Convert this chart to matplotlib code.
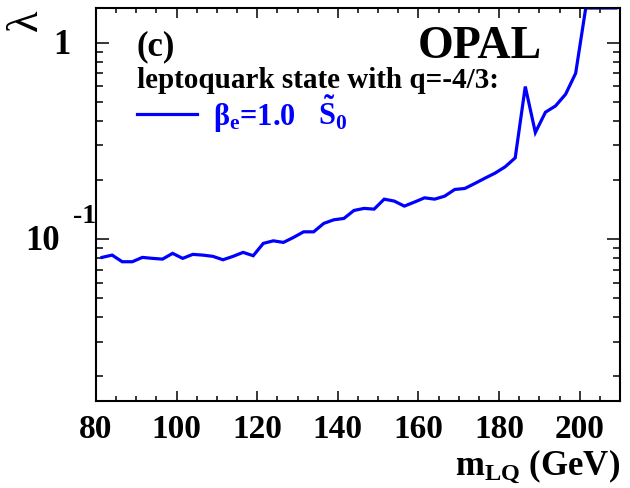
import numpy as np
import matplotlib
matplotlib.use('Agg')
import matplotlib.pyplot as plt
from matplotlib.ticker import MultipleLocator, LogLocator, NullFormatter

plt.rcParams['font.family'] = 'Liberation Serif'
plt.rcParams['font.weight'] = 'bold'
plt.rcParams['mathtext.fontset'] = 'custom'
plt.rcParams['mathtext.rm'] = 'Liberation Serif:bold'
plt.rcParams['mathtext.bf'] = 'Liberation Serif:bold'
plt.rcParams['mathtext.it'] = 'Liberation Serif:bold'

# limit curve, S0~ leptoquark, beta_e = 1.0
mass = [81.5, 84.0, 86.5, 89.0, 91.5, 94.0, 96.5, 99.0, 101.5, 104.0,
        106.5, 109.0, 111.5, 114.0, 116.5, 119.0, 121.5, 124.0, 126.5, 129.0,
        131.5, 134.0, 136.5, 139.0, 141.5, 144.0, 146.5, 149.0, 151.5, 154.0,
        156.5, 159.0, 161.5, 164.0, 166.5, 169.0, 171.5, 174.0, 176.5, 179.0,
        181.5, 184.0, 186.5, 189.0, 191.5, 194.0, 196.5, 199.0, 201.5, 204.0,
        206.5, 209.0]
lam = [0.0807, 0.0829, 0.0767, 0.0767, 0.0807, 0.0798, 0.0791, 0.0846, 0.0798, 0.0836,
       0.0829, 0.0817, 0.0785, 0.0817, 0.0856, 0.0823, 0.0951, 0.0980, 0.0962, 0.1020,
       0.1089, 0.1089, 0.1202, 0.1254, 0.1274, 0.1399, 0.1433, 0.1421, 0.1597, 0.1561,
       0.1472, 0.1543, 0.1622, 0.1597, 0.1654, 0.1789, 0.1810, 0.1920, 0.2042, 0.2166,
       0.2332, 0.2591, 0.5975, 0.3487, 0.4422, 0.4761, 0.5459, 0.6983, 1.8, 2.5,
       3.5, 5.0]

xmin, xmax = 80, 210
ymin, ymax = 0.015, 1.5
blue = '#0000ff'

fig = plt.figure(figsize=(6.3, 4.89), dpi=100)
ax = fig.add_axes([96/630, 87/489, 524/630, 393/489])

# ROOT draws points above the frame along the top edge
ax.plot(mass, np.minimum(lam, ymax), color=blue, lw=2.3, solid_joinstyle='miter')

ax.set_yscale('log')
ax.set_xlim(xmin, xmax)
ax.set_ylim(ymin, ymax)

ax.xaxis.set_major_locator(MultipleLocator(20))
ax.xaxis.set_minor_locator(MultipleLocator(5))
ax.yaxis.set_major_locator(LogLocator(base=10, numticks=10))
ax.yaxis.set_minor_locator(LogLocator(base=10, subs=np.arange(2, 10), numticks=20))
ax.yaxis.set_major_formatter(NullFormatter())
ax.yaxis.set_minor_formatter(NullFormatter())

ax.tick_params(which='both', direction='in', top=True, right=True, width=1.1, color='black')
ax.tick_params(axis='x', which='major', length=7.5, labelsize=24, pad=9)
ax.tick_params(axis='x', which='minor', length=3.5)
ax.tick_params(axis='y', which='major', length=9.5)
ax.tick_params(axis='y', which='minor', length=5)
for s in ax.spines.values():
    s.set_linewidth(1.5)

# y tick labels, ROOT style
ax.annotate('1', xy=(0, 1), xycoords=('axes fraction', 'data'), xytext=(-26, -2),
            textcoords='offset pixels', ha='right', va='center', fontsize=25)
ax.annotate('10', xy=(0, 0.1), xycoords=('axes fraction', 'data'), xytext=(-36, -1),
            textcoords='offset pixels', ha='right', va='center', fontsize=25)
ax.annotate('-1', xy=(0, 0.1), xycoords=('axes fraction', 'data'), xytext=(-23, 17),
            textcoords='offset pixels', ha='left', va='baseline', fontsize=20)

def px(x, y):
    return x / 630, 1 - y / 489

fig.text(*px(26, 20), 'λ', rotation=90, ha='center', va='center', fontsize=32,
         fontweight='normal')
fig.text(*px(620, 475), r'$\mathbf{m_{LQ}}$ (GeV)', ha='right', va='baseline', fontsize=25)
fig.text(*px(137, 55), '(c)', ha='left', va='baseline', fontsize=25)
fig.text(*px(542, 58), 'OPAL', ha='right', va='baseline', fontsize=33)
fig.text(*px(137, 88), 'leptoquark state with q=-4/3:', ha='left', va='baseline', fontsize=21)

fig.lines.append(plt.Line2D([137/630, 197/630], [1 - 115/489, 1 - 115/489],
                            transform=fig.transFigure, color=blue, lw=2.3))
fig.text(*px(213, 125), r'$\mathbf{\beta_{e}}$=1.0', color=blue, ha='left', va='baseline', fontsize=22)
fig.text(*px(318, 125), r'$\mathbf{\tilde{S}_{0}}$', color=blue, ha='left', va='baseline', fontsize=22)

fig.savefig('out.png', dpi=100)
